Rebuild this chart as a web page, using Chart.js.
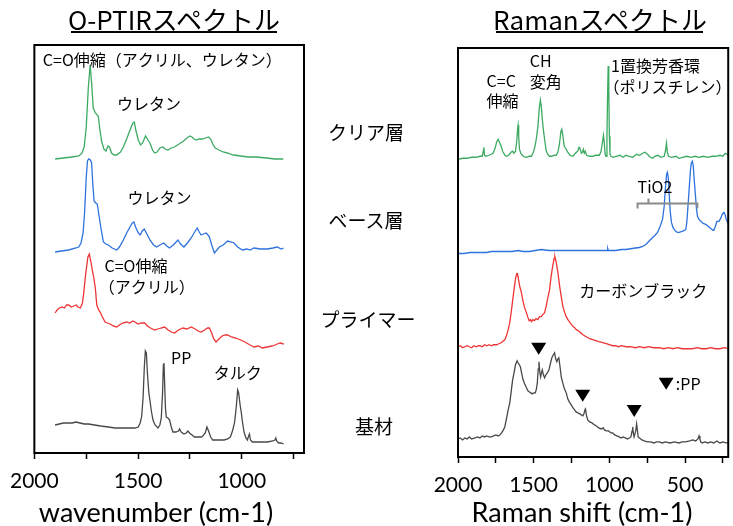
<!DOCTYPE html>
<html><head><meta charset="utf-8">
<script src="https://cdn.jsdelivr.net/npm/chart.js@4/dist/chart.umd.min.js"></script>
<style>
body{margin:0;background:#fff;}
#wrap{position:relative;width:733px;height:526px;overflow:hidden;font-family:"Noto Sans CJK JP",sans-serif;color:#000;}
canvas{position:absolute;top:0;}
.t{position:absolute;white-space:nowrap;line-height:1;transform:translate(-50%,-50%);}
.ul{position:absolute;height:2px;background:#000;}
</style></head><body>
<div id="wrap">
<canvas id="c1" width="330" height="526" style="left:0"></canvas>
<canvas id="c2" width="313" height="526" style="left:420px"></canvas>
<div class="t" style="left:174px;top:19px;font-size:26px;">O-PTIRスペクトル</div>
<div class="ul" style="left:71px;top:31px;width:206px;"></div>
<div class="t" style="left:600px;top:19px;font-size:26px;">Ramanスペクトル</div>
<div class="ul" style="left:496px;top:31px;width:207px;"></div>
<div class="t" style="left:366px;top:131px;font-size:19px;">クリア層</div>
<div class="t" style="left:366px;top:219px;font-size:19px;">ベース層</div>
<div class="t" style="left:368px;top:318px;font-size:19px;">プライマー</div>
<div class="t" style="left:374px;top:425px;font-size:19px;">基材</div>
<div class="t" style="left:156px;top:511px;font-size:27px;font-family:Lato;">wavenumber (cm-1)</div>
<div class="t" style="left:582px;top:511px;font-size:27px;font-family:Lato;">Raman shift (cm-1)</div>
</div>
<script>
// ---------- data: [wavenumber, intensity(offset, arbitrary units)] ----------
const optirClear = [[1900,294],[1860,295],[1820,296],[1785,297],[1770,300],[1760,306],[1750,325],[1740,365],[1731,388],[1724,370],[1716,345],[1706,340],[1692,337],[1685,325],[1676,312],[1665,304],[1655,302],[1645,307],[1638,306],[1628,300],[1615,298],[1603,298],[1585,301],[1571,306],[1555,314],[1539,323],[1525,330],[1518,331],[1510,322],[1499,313],[1488,308],[1478,310],[1464,317],[1455,314],[1443,310],[1430,303],[1420,300],[1408,301],[1395,305],[1380,306],[1370,304],[1356,303],[1340,305],[1325,306],[1310,308],[1295,310],[1280,312],[1265,315],[1250,317],[1240,316],[1230,314],[1220,313],[1205,314],[1190,314],[1175,315],[1160,316],[1150,314],[1140,309],[1128,305],[1110,303],[1090,301],[1070,300],[1040,298],[1005,297],[970,296],[930,296],[880,295],[840,294],[800,294]];
const optirBase = [[1900,201],[1870,202],[1834,203],[1800,205],[1786,206],[1775,210],[1765,220],[1758,240],[1750,275],[1744,292],[1738,294],[1730,293],[1724,290],[1718,268],[1712,252],[1704,250],[1697,249],[1690,240],[1683,230],[1675,220],[1667,211],[1655,209],[1643,208],[1625,205],[1603,203],[1590,206],[1571,213],[1555,220],[1539,226],[1528,230],[1520,231],[1512,226],[1499,220],[1490,218],[1480,222],[1470,224],[1460,220],[1443,213],[1425,208],[1411,206],[1395,208],[1376,210],[1362,207],[1348,205],[1330,208],[1308,213],[1295,209],[1279,206],[1262,210],[1244,215],[1230,220],[1215,225],[1205,221],[1196,218],[1185,219],[1172,220],[1163,218],[1156,216],[1145,208],[1132,200],[1120,203],[1108,206],[1090,208],[1068,212],[1050,211],[1037,210],[1020,206],[997,203],[975,204],[960,203],[941,205],[910,204],[877,204],[850,205],[829,206],[810,204],[798,205]];
const optirPrimer = [[1900,140],[1890,143],[1880,145],[1866,146],[1855,145],[1845,148],[1834,148],[1822,146],[1810,147],[1798,148],[1790,146],[1778,145],[1768,150],[1762,160],[1752,180],[1742,196],[1735,199],[1728,192],[1720,182],[1714,176],[1706,165],[1699,148],[1690,143],[1683,141],[1672,136],[1659,131],[1648,130],[1635,129],[1620,127],[1603,126],[1590,128],[1575,130],[1555,131],[1540,130],[1525,132],[1515,131],[1500,129],[1485,130],[1468,130],[1455,127],[1440,125],[1420,123],[1405,124],[1390,125],[1372,126],[1355,123],[1340,121],[1324,120],[1305,123],[1284,125],[1265,124],[1244,126],[1225,124],[1210,122],[1196,121],[1180,123],[1165,125],[1156,125],[1145,120],[1135,114],[1124,111],[1110,114],[1095,117],[1080,118],[1068,118],[1050,116],[1030,115],[1005,113],[985,111],[960,108],[941,106],[920,107],[900,105],[877,106],[855,107],[840,108],[829,109],[815,110],[798,109]];
const optirSubstrate = [[1900,28],[1880,29],[1860,30],[1840,30],[1818,30],[1800,31],[1780,30],[1760,29],[1738,29],[1710,28],[1680,27],[1643,26],[1610,25],[1580,25],[1550,25],[1515,25],[1499,26],[1490,30],[1483,36],[1476,55],[1470,85],[1465,102],[1460,100],[1455,80],[1448,60],[1443,53],[1436,42],[1428,33],[1418,28],[1404,25],[1395,28],[1388,35],[1382,60],[1378,88],[1375,90],[1372,70],[1368,45],[1364,36],[1356,35],[1348,33],[1340,26],[1332,21],[1318,21],[1305,22],[1300,24],[1292,21],[1279,19],[1268,20],[1260,22],[1252,20],[1240,18],[1228,16],[1210,16],[1195,16],[1188,17],[1176,20],[1168,26],[1160,22],[1150,16],[1140,13],[1110,13],[1085,13],[1068,14],[1055,16],[1045,22],[1035,30],[1027,45],[1020,63],[1015,60],[1008,48],[1002,40],[996,30],[989,21],[980,15],[973,13],[967,17],[963,19],[958,13],[949,11],[920,11],[877,11],[850,12],[840,13],[836,15],[832,12],[822,10],[810,10],[798,9]];

const ramanClear = [[2000,297],[1970,298],[1940,298],[1910,299],[1880,299],[1855,300],[1840,300],[1832,306],[1829,309],[1825,301],[1815,300],[1795,301],[1780,302],[1768,303],[1755,308],[1745,314],[1735,317],[1726,314],[1715,310],[1705,305],[1690,301],[1680,300],[1665,301],[1650,304],[1640,305],[1630,303],[1620,305],[1612,315],[1606,328],[1603,331],[1599,320],[1594,307],[1585,303],[1570,300],[1550,299],[1530,300],[1515,300],[1500,305],[1490,311],[1482,318],[1472,330],[1463,348],[1456,356],[1450,350],[1442,335],[1435,325],[1428,317],[1418,306],[1408,302],[1395,300],[1380,300],[1365,301],[1351,301],[1340,304],[1330,312],[1320,325],[1314,327],[1307,320],[1298,310],[1285,307],[1275,304],[1260,301],[1241,300],[1225,303],[1210,305],[1200,309],[1195,308],[1185,303],[1178,304],[1172,307],[1166,303],[1160,305],[1150,301],[1132,300],[1110,300],[1090,301],[1066,301],[1055,305],[1045,315],[1039,321],[1034,314],[1028,302],[1022,300],[1016,320],[1012,360],[1008,390],[1004,365],[1000,320],[996,302],[990,300],[975,299],[956,300],[930,301],[910,299],[890,301],[870,300],[846,299],[820,302],[800,301],[780,303],[765,304],[748,302],[730,299],[715,298],[700,300],[680,301],[660,299],[638,300],[630,305],[623,313],[617,304],[610,300],[590,299],[560,300],[540,298],[517,299],[490,300],[460,299],[435,300],[408,299],[380,300],[350,299],[320,300],[298,300],[270,301],[250,300],[240,302],[232,303],[215,301]];
const ramanBase = [[2000,203],[1960,203],[1920,204],[1880,204],[1840,204],[1811,204],[1780,205],[1740,205],[1700,205],[1640,205],[1603,206],[1570,205],[1526,205],[1490,206],[1449,207],[1400,206],[1350,206],[1307,206],[1250,206],[1200,206],[1150,206],[1100,206],[1050,206],[1015,206],[1011,208],[1007,206],[960,206],[920,207],[890,207],[850,208],[803,209],[780,210],[759,212],[740,215],[715,219],[700,221],[682,224],[665,230],[649,237],[638,250],[630,268],[622,282],[617,284],[612,280],[605,262],[598,245],[590,234],[580,229],[572,227],[560,225],[550,224],[539,224],[520,225],[505,226],[495,227],[488,235],[480,252],[474,265],[465,285],[459,293],[452,295],[446,291],[440,277],[432,262],[425,248],[418,240],[408,237],[395,235],[380,233],[364,232],[345,230],[330,228],[315,226],[309,227],[300,230],[290,235],[276,235],[265,238],[255,242],[243,244],[236,242],[228,237],[215,233]];
const ramanPrimer = [[2000,110],[1985,111],[1970,109],[1955,110],[1940,111],[1925,110],[1910,109],[1895,111],[1880,110],[1865,111],[1855,111],[1840,110],[1825,112],[1810,111],[1795,112],[1780,111],[1765,112],[1745,112],[1730,113],[1715,114],[1700,116],[1691,117],[1680,121],[1670,126],[1658,134],[1648,145],[1640,155],[1630,167],[1620,178],[1612,183],[1607,183],[1600,177],[1592,170],[1581,164],[1570,155],[1560,149],[1548,144],[1540,140],[1530,136],[1520,137],[1515,135],[1505,137],[1495,136],[1485,138],[1472,137],[1462,140],[1450,140],[1440,142],[1428,144],[1418,150],[1408,158],[1395,167],[1385,180],[1375,190],[1365,198],[1360,200],[1352,195],[1340,184],[1330,172],[1318,160],[1307,150],[1295,144],[1285,140],[1274,137],[1260,134],[1245,131],[1230,129],[1219,127],[1205,126],[1190,124],[1175,122],[1153,120],[1130,118],[1110,117],[1090,116],[1070,115],[1044,114],[1020,113],[1000,112],[980,111],[960,111],[940,110],[920,111],[890,110],[860,110],[830,109],[800,110],[770,109],[740,110],[710,109],[671,109],[640,108],[610,109],[580,108],[550,109],[520,108],[490,108],[452,108],[420,109],[390,108],[360,108],[330,109],[300,108],[270,108],[240,109],[215,108]];
const ramanSubstrate = [[2000,18],[1985,19],[1970,17],[1955,19],[1940,18],[1925,20],[1910,18],[1888,19],[1870,20],[1855,19],[1840,21],[1825,20],[1810,21],[1795,20],[1778,20],[1765,21],[1750,22],[1735,21],[1724,22],[1712,24],[1700,27],[1691,30],[1680,38],[1670,46],[1658,54],[1648,66],[1640,76],[1630,84],[1620,92],[1610,96],[1603,94],[1595,92],[1588,90],[1580,84],[1570,77],[1560,73],[1548,69],[1538,66],[1530,65],[1520,64],[1510,63],[1500,64],[1489,64],[1482,68],[1476,74],[1470,88],[1465,95],[1460,85],[1454,80],[1449,84],[1443,87],[1436,82],[1428,79],[1420,82],[1410,84],[1399,87],[1390,93],[1380,99],[1370,102],[1362,104],[1355,98],[1347,95],[1340,98],[1334,99],[1326,90],[1318,80],[1308,74],[1297,68],[1285,64],[1275,58],[1265,55],[1252,52],[1240,49],[1230,47],[1220,45],[1208,44],[1195,43],[1185,42],[1175,41],[1168,43],[1162,47],[1158,48],[1152,42],[1143,37],[1130,35],[1115,34],[1099,32],[1085,31],[1070,29],[1055,28],[1040,29],[1033,27],[1020,26],[1005,26],[990,24],[978,24],[965,22],[950,21],[935,20],[923,19],[910,20],[895,19],[880,18],[868,19],[858,20],[850,26],[846,30],[842,24],[837,20],[833,20],[826,26],[820,33],[816,28],[810,20],[801,19],[785,17],[770,16],[748,15],[730,15],[704,14],[690,15],[671,15],[650,14],[630,15],[600,14],[570,15],[540,14],[520,15],[496,15],[470,16],[450,17],[430,16],[415,18],[408,21],[402,18],[396,15],[386,14],[370,15],[350,14],[330,15],[310,14],[290,16],[270,14],[250,15],[230,14],[215,14]];

const tickValues = [2000,1750,1500,1250,1000,750,500,250];
const labelledTicks = [2000,1500,1000,500];

// annotation labels [text, wavenumber, intensity, align]
const optirLabels = [["C=O伸縮（アクリル、ウレタン）",1383,393,"center"],["ウレタン",1447,349,"center"],["ウレタン",1397,255,"center"],["C=O伸縮",1662,187,"left"],["（アクリル）",1689,166,"left"],["PP",1292,95,"center"],["タルク",1019,80,"center"]];
const ramanLabels = [["C=C",1811,375,"left"],["伸縮",1811,355,"left"],["CH",1526,395,"left"],["変角",1526,374,"left"],["1置換芳香環",989,390,"left"],["（ポリスチレン）",1039,369,"left"],["TiO2",814,269,"left"],["カーボンブラック",776,166,"center"],[":PP",561,73,"left"]];
const ppMarkers = [[1467,108],[1176,61],[836,46],[625,73]];
const tio2Bracket = [814,419,742,253]; // from, to, mid tick, level

const COLORS = {green:'#3daa62', blue:'#2e72de', red:'#ee3434', black:'#484848'};

function ds(arr,color){return {data:arr.map(([x,y])=>({x,y})),borderColor:color,borderWidth:1.3,pointRadius:0,tension:0,fill:false};}

function annotPlugin(labels, extra){
  return {id:'annot', afterDatasetsDraw(chart){
    const ctx=chart.ctx, xs=chart.scales.x, ys=chart.scales.y, ca=chart.chartArea;
    ctx.save();
    ctx.fillStyle='#000';
    ctx.font='16px "Noto Sans CJK JP"';
    ctx.textBaseline='middle';
    labels.forEach(([t,x,y,a])=>{ctx.textAlign=a;ctx.fillText(t,xs.getPixelForValue(x),ys.getPixelForValue(y));});
    if(extra) extra(ctx,xs,ys);
    ctx.strokeStyle='#000';ctx.lineWidth=2;
    ctx.strokeRect(ca.left,ca.top,ca.right-ca.left,ca.bottom-ca.top);
    ctx.restore();
  }};
}

function makeChart(id, sets, xmin, padding, axisH, tickPad, labels, extra){
  return new Chart(document.getElementById(id),{
    type:'line',
    data:{datasets:sets},
    options:{
      responsive:false, animation:false, devicePixelRatio:1,
      layout:{padding:padding},
      plugins:{legend:{display:false},tooltip:{enabled:false}},
      scales:{
        x:{type:'linear',reverse:true,min:xmin,max:2000,
          afterBuildTicks(s){s.ticks=tickValues.filter(v=>v>=xmin).map(v=>({value:v}));},
          afterFit(s){s.height=axisH;},
          ticks:{autoSkip:false,maxRotation:0,color:'#000',font:{family:'Lato',size:21},padding:tickPad,
            callback:(v)=>labelledTicks.includes(v)?String(v):''},
          grid:{display:true,drawOnChartArea:false,drawTicks:true,tickLength:6,tickWidth:1.5,tickColor:'#000'},
          border:{display:false}},
        y:{display:false,min:0,max:408}
      }
    },
    plugins:[annotPlugin(labels,extra)]
  });
}

makeChart('c1',[ds(optirClear,COLORS.green),ds(optirBase,COLORS.blue),ds(optirPrimer,COLORS.red),ds(optirSubstrate,COLORS.black)],700,{left:32,right:26,top:45,bottom:0},73,10,optirLabels,null);

makeChart('c2',[ds(ramanClear,COLORS.green),ds(ramanBase,COLORS.blue),ds(ramanPrimer,COLORS.red),ds(ramanSubstrate,COLORS.black)],215,{left:38,right:4,top:48,bottom:0},69,10,ramanLabels,(ctx,xs,ys)=>{
  ctx.fillStyle='#000';
  ppMarkers.forEach(([x,y])=>{const px=xs.getPixelForValue(x),py=ys.getPixelForValue(y);
    ctx.beginPath();ctx.moveTo(px-7.5,py-6);ctx.lineTo(px+7.5,py-6);ctx.lineTo(px,py+6);ctx.closePath();ctx.fill();});
  const [a,b,m,lv]=tio2Bracket;
  const x1=xs.getPixelForValue(a),x2=xs.getPixelForValue(b),xm=xs.getPixelForValue(m),y0=ys.getPixelForValue(lv);
  ctx.strokeStyle='#8a8a8a';ctx.lineWidth=2;ctx.beginPath();
  ctx.moveTo(x1,y0+5);ctx.lineTo(x1,y0);ctx.lineTo(x2,y0);ctx.lineTo(x2,y0+5);
  ctx.moveTo(xm,y0);ctx.lineTo(xm,y0-5);ctx.stroke();
});
</script>
</body></html>
